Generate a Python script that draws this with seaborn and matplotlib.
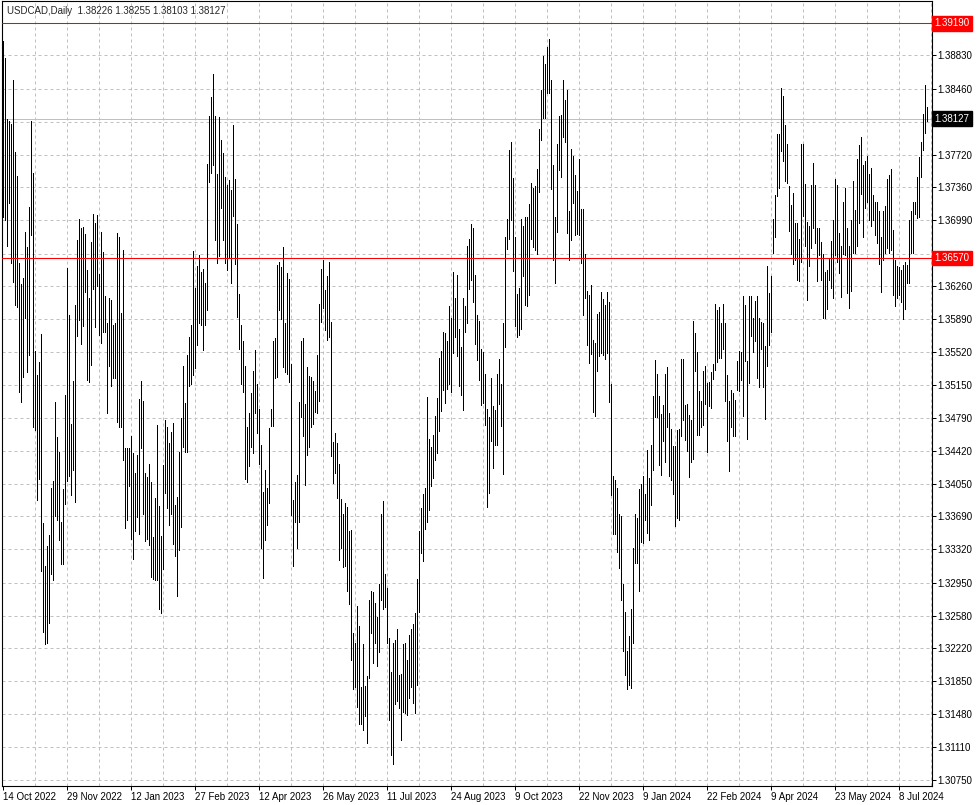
import numpy as np
import pandas as pd
import matplotlib
matplotlib.use('Agg')
import matplotlib.pyplot as plt
import seaborn as sns

# ── datos (máximo / mínimo diario) ───────────────────────────────────────────
highs = [
    1.3899, 1.3880, 1.3812, 1.3810, 1.3807, 1.3856, 1.3775, 1.3749, 1.3652, 1.3628,
    1.3635, 1.3686, 1.3669, 1.3714, 1.3810, 1.3752, 1.3553, 1.3527, 1.3541, 1.3572,
    1.3361, 1.3314, 1.3336, 1.3348, 1.3401, 1.3408, 1.3496, 1.3457, 1.3441, 1.3362,
    1.3399, 1.3504, 1.3646, 1.3594, 1.3472, 1.3520, 1.3605, 1.3677, 1.3701, 1.3690,
    1.3692, 1.3684, 1.3644, 1.3613, 1.3675, 1.3706, 1.3696, 1.3705, 1.3639, 1.3686,
    1.3664, 1.3615, 1.3584, 1.3612, 1.3610, 1.3582, 1.3585, 1.3685, 1.3681, 1.3596,
    1.3666, 1.3445, 1.3445, 1.3445, 1.3458, 1.3440, 1.3417, 1.3437, 1.3500, 1.3520,
    1.3498, 1.3417, 1.3413, 1.3427, 1.3407, 1.3346, 1.3389, 1.3471, 1.3380, 1.3347,
    1.3426, 1.3476, 1.3469, 1.3451, 1.3463, 1.3473, 1.3381, 1.3390, 1.3441, 1.3479,
    1.3537, 1.3495, 1.3549, 1.3569, 1.3582, 1.3665, 1.3624, 1.3648, 1.3660, 1.3642,
    1.3645, 1.3629, 1.3762, 1.3816, 1.3837, 1.3862, 1.3816, 1.3751, 1.3814, 1.3789,
    1.3774, 1.3748, 1.3738, 1.3744, 1.3733, 1.3805, 1.3745, 1.3695, 1.3617, 1.3582,
    1.3565, 1.3537, 1.3469, 1.3484, 1.3506, 1.3531, 1.3554, 1.3517, 1.3489, 1.3448,
    1.3396, 1.3420, 1.3400, 1.3467, 1.3489, 1.3564, 1.3568, 1.3649, 1.3653, 1.3647,
    1.3669, 1.3584, 1.3640, 1.3634, 1.3539, 1.3387, 1.3407, 1.3415, 1.3496, 1.3565,
    1.3568, 1.3494, 1.3536, 1.3525, 1.3524, 1.3520, 1.3509, 1.3549, 1.3606, 1.3645,
    1.3655, 1.3621, 1.3637, 1.3653, 1.3586, 1.3452, 1.3462, 1.3451, 1.3427, 1.3388,
    1.3371, 1.3384, 1.3379, 1.3353, 1.3354, 1.3239, 1.3228, 1.3269, 1.3246, 1.3179,
    1.3226, 1.3180, 1.3191, 1.3276, 1.3285, 1.3284, 1.3272, 1.3256, 1.3293, 1.3372,
    1.3386, 1.3304, 1.3289, 1.3233, 1.3195, 1.3227, 1.3231, 1.3243, 1.3192, 1.3193,
    1.3226, 1.3228, 1.3209, 1.3237, 1.3243, 1.3249, 1.3261, 1.3299, 1.3353, 1.3378,
    1.3394, 1.3400, 1.3502, 1.3455, 1.3446, 1.3460, 1.3481, 1.3501, 1.3546, 1.3553,
    1.3574, 1.3573, 1.3565, 1.3604, 1.3590, 1.3641, 1.3612, 1.3638, 1.3578, 1.3558,
    1.3613, 1.3604, 1.3670, 1.3678, 1.3695, 1.3690, 1.3638, 1.3594, 1.3587, 1.3555,
    1.3552, 1.3528, 1.3489, 1.3480, 1.3523, 1.3492, 1.3488, 1.3528, 1.3544, 1.3517,
    1.3585, 1.3681, 1.3701, 1.3778, 1.3786, 1.3746, 1.3680, 1.3617, 1.3624, 1.3701,
    1.3693, 1.3703, 1.3703, 1.3717, 1.3741, 1.3735, 1.3737, 1.3756, 1.3801, 1.3845,
    1.3882, 1.3874, 1.3893, 1.3901, 1.3856, 1.3761, 1.3703, 1.3784, 1.3816, 1.3817,
    1.3856, 1.3833, 1.3845, 1.3710, 1.3779, 1.3771, 1.3750, 1.3732, 1.3767, 1.3712,
    1.3712, 1.3662, 1.3620, 1.3616, 1.3627, 1.3566, 1.3562, 1.3595, 1.3597, 1.3619,
    1.3611, 1.3605, 1.3619, 1.3608, 1.3516, 1.3414, 1.3409, 1.3400, 1.3371, 1.3369,
    1.3293, 1.3262, 1.3219, 1.3235, 1.3265, 1.3334, 1.3372, 1.3367, 1.3399, 1.3405,
    1.3414, 1.3394, 1.3443, 1.3412, 1.3448, 1.3503, 1.3543, 1.3528, 1.3503, 1.3483,
    1.3493, 1.3528, 1.3535, 1.3484, 1.3466, 1.3447, 1.3447, 1.3465, 1.3466, 1.3544,
    1.3544, 1.3493, 1.3494, 1.3482, 1.3476, 1.3587, 1.3573, 1.3552, 1.3509, 1.3497,
    1.3531, 1.3537, 1.3518, 1.3519, 1.3530, 1.3539, 1.3606, 1.3599, 1.3602, 1.3584,
    1.3606, 1.3584, 1.3526, 1.3498, 1.3510, 1.3507, 1.3499, 1.3542, 1.3553, 1.3552,
    1.3615, 1.3605, 1.3542, 1.3615, 1.3615, 1.3590, 1.3609, 1.3615, 1.3590, 1.3586,
    1.3585, 1.3559, 1.3648, 1.3618, 1.3637, 1.3701, 1.3727, 1.3795, 1.3795, 1.3847,
    1.3838, 1.3805, 1.3784, 1.3737, 1.3716, 1.3730, 1.3696, 1.3696, 1.3678, 1.3784,
    1.3784, 1.3740, 1.3697, 1.3693, 1.3738, 1.3763, 1.3738, 1.3691, 1.3690, 1.3675,
    1.3662, 1.3642, 1.3644, 1.3657, 1.3676, 1.3700, 1.3745, 1.3738, 1.3685, 1.3671,
    1.3719, 1.3735, 1.3691, 1.3670, 1.3700, 1.3743, 1.3711, 1.3768, 1.3783, 1.3792,
    1.3761, 1.3765, 1.3771, 1.3751, 1.3758, 1.3727, 1.3720, 1.3719, 1.3709, 1.3681,
    1.3709, 1.3715, 1.3745, 1.3750, 1.3756, 1.3688, 1.3655, 1.3648, 1.3647, 1.3644,
    1.3649, 1.3653, 1.3649, 1.3700, 1.3709, 1.3719, 1.3719, 1.3748, 1.3770, 1.3787,
    1.3818, 1.3850, 1.38255,
]
lows = [
    1.3703, 1.3700, 1.3670, 1.3718, 1.3651, 1.3630, 1.3605, 1.3602, 1.3508, 1.3496,
    1.3524, 1.3590, 1.3530, 1.3549, 1.3683, 1.3468, 1.3465, 1.3387, 1.3410, 1.3308,
    1.3240, 1.3226, 1.3228, 1.3250, 1.3304, 1.3298, 1.3369, 1.3365, 1.3343, 1.3316,
    1.3316, 1.3383, 1.3408, 1.3414, 1.3393, 1.3421, 1.3385, 1.3570, 1.3588, 1.3561,
    1.3581, 1.3619, 1.3521, 1.3519, 1.3538, 1.3623, 1.3580, 1.3626, 1.3571, 1.3562,
    1.3574, 1.3574, 1.3484, 1.3537, 1.3514, 1.3523, 1.3523, 1.3474, 1.3469, 1.3468,
    1.3432, 1.3356, 1.3365, 1.3403, 1.3344, 1.3321, 1.3352, 1.3368, 1.3349, 1.3445,
    1.3372, 1.3341, 1.3344, 1.3337, 1.3301, 1.3299, 1.3298, 1.3298, 1.3265, 1.3261,
    1.3310, 1.3395, 1.3378, 1.3359, 1.3371, 1.3338, 1.3325, 1.3280, 1.3331, 1.3357,
    1.3446, 1.3441, 1.3441, 1.3514, 1.3516, 1.3526, 1.3534, 1.3560, 1.3584, 1.3582,
    1.3554, 1.3582, 1.3599, 1.3742, 1.3752, 1.3761, 1.3677, 1.3651, 1.3659, 1.3713,
    1.3677, 1.3651, 1.3644, 1.3657, 1.3629, 1.3704, 1.3650, 1.3591, 1.3555, 1.3516,
    1.3508, 1.3411, 1.3407, 1.3425, 1.3446, 1.3440, 1.3484, 1.3462, 1.3427, 1.3333,
    1.3300, 1.3342, 1.3359, 1.3384, 1.3470, 1.3470, 1.3523, 1.3524, 1.3599, 1.3589,
    1.3536, 1.3530, 1.3528, 1.3519, 1.3370, 1.3314, 1.3363, 1.3334, 1.3362, 1.3480,
    1.3458, 1.3404, 1.3437, 1.3446, 1.3468, 1.3472, 1.3485, 1.3484, 1.3497, 1.3586,
    1.3601, 1.3577, 1.3566, 1.3569, 1.3436, 1.3406, 1.3417, 1.3389, 1.3320, 1.3333,
    1.3312, 1.3314, 1.3285, 1.3271, 1.3209, 1.3176, 1.3178, 1.3156, 1.3137, 1.3137,
    1.3131, 1.3146, 1.3116, 1.3188, 1.3239, 1.3205, 1.3228, 1.3202, 1.3217, 1.3275,
    1.3266, 1.3268, 1.3228, 1.3142, 1.3103, 1.3092, 1.3160, 1.3163, 1.3155, 1.3119,
    1.3151, 1.3150, 1.3147, 1.3166, 1.3179, 1.3161, 1.3150, 1.3181, 1.3262, 1.3328,
    1.3319, 1.3355, 1.3362, 1.3376, 1.3403, 1.3412, 1.3432, 1.3440, 1.3464, 1.3486,
    1.3510, 1.3495, 1.3511, 1.3516, 1.3508, 1.3551, 1.3569, 1.3548, 1.3514, 1.3504,
    1.3488, 1.3574, 1.3585, 1.3622, 1.3632, 1.3608, 1.3561, 1.3543, 1.3521, 1.3493,
    1.3495, 1.3471, 1.3379, 1.3395, 1.3453, 1.3423, 1.3449, 1.3448, 1.3494, 1.3470,
    1.3416, 1.3558, 1.3667, 1.3678, 1.3700, 1.3643, 1.3581, 1.3569, 1.3571, 1.3578,
    1.3637, 1.3605, 1.3604, 1.3616, 1.3678, 1.3669, 1.3666, 1.3662, 1.3731, 1.3789,
    1.3813, 1.3813, 1.3841, 1.3841, 1.3734, 1.3655, 1.3629, 1.3686, 1.3755, 1.3747,
    1.3792, 1.3786, 1.3685, 1.3655, 1.3677, 1.3718, 1.3683, 1.3684, 1.3683, 1.3652,
    1.3593, 1.3613, 1.3560, 1.3540, 1.3550, 1.3485, 1.3481, 1.3531, 1.3548, 1.3551,
    1.3549, 1.3544, 1.3551, 1.3496, 1.3393, 1.3349, 1.3349, 1.3329, 1.3311, 1.3275,
    1.3219, 1.3192, 1.3176, 1.3181, 1.3177, 1.3228, 1.3317, 1.3317, 1.3286, 1.3340,
    1.3339, 1.3365, 1.3350, 1.3343, 1.3381, 1.3420, 1.3480, 1.3480, 1.3426, 1.3415,
    1.3453, 1.3430, 1.3469, 1.3414, 1.3409, 1.3394, 1.3358, 1.3367, 1.3365, 1.3458,
    1.3476, 1.3454, 1.3442, 1.3413, 1.3430, 1.3433, 1.3531, 1.3460, 1.3460, 1.3468,
    1.3471, 1.3494, 1.3441, 1.3492, 1.3490, 1.3522, 1.3532, 1.3541, 1.3545, 1.3545,
    1.3555, 1.3498, 1.3453, 1.3419, 1.3469, 1.3458, 1.3458, 1.3510, 1.3509, 1.3521,
    1.3481, 1.3542, 1.3455, 1.3518, 1.3570, 1.3552, 1.3564, 1.3523, 1.3513, 1.3556,
    1.3513, 1.3478, 1.3537, 1.3560, 1.3575, 1.3663, 1.3681, 1.3726, 1.3735, 1.3776,
    1.3765, 1.3743, 1.3741, 1.3687, 1.3661, 1.3650, 1.3655, 1.3632, 1.3631, 1.3653,
    1.3704, 1.3670, 1.3610, 1.3648, 1.3668, 1.3691, 1.3674, 1.3631, 1.3660, 1.3632,
    1.3590, 1.3590, 1.3600, 1.3633, 1.3624, 1.3613, 1.3660, 1.3653, 1.3640, 1.3614,
    1.3661, 1.3660, 1.3618, 1.3601, 1.3620, 1.3663, 1.3663, 1.3670, 1.3696, 1.3728,
    1.3681, 1.3713, 1.3720, 1.3700, 1.3693, 1.3699, 1.3683, 1.3674, 1.3650, 1.3619,
    1.3655, 1.3663, 1.3668, 1.3663, 1.3666, 1.3616, 1.3603, 1.3613, 1.3616, 1.3608,
    1.3589, 1.3600, 1.3629, 1.3629, 1.3663, 1.3663, 1.3706, 1.3702, 1.3703, 1.3748,
    1.3778, 1.3797, 1.38103,
]

# niveles y etiquetas de la escala de precios
price_ticks = [1.30750, 1.31110, 1.31480, 1.31850, 1.32220, 1.32580, 1.32950,
               1.33320, 1.33690, 1.34050, 1.34420, 1.34790, 1.35150, 1.35520,
               1.35890, 1.36260, 1.36620, 1.36990, 1.37360, 1.37720, 1.38090,
               1.38460, 1.38830]
hidden_ticks = [1.36620, 1.38090]
red_levels = [1.39190, 1.36570]
bid = 1.38127
header = 'USDCAD,Daily  1.38226 1.38255 1.38103 1.38127'
missing_days = ['2023-12-25', '2024-01-01', '2024-03-29']

# ── preparar tabla ───────────────────────────────────────────────────────────
n = len(highs)
dias = pd.bdate_range('2022-10-14', periods=n + 20)
dias = dias[~dias.isin(pd.to_datetime(missing_days))][:n]

barras = pd.DataFrame({'idx': np.arange(n), 'fecha': dias,
                       'high': highs, 'low': lows})
largo = barras.melt(id_vars=['idx'], value_vars=['low', 'high'],
                    value_name='price')

sns.set_style('white')
plt.rcParams['font.family'] = ['Liberation Sans', 'DejaVu Sans']

W, H = 978, 805
fig = plt.figure(figsize=(W / 100, H / 100), dpi=100)
ax = fig.add_axes([2 / W, 19 / H, 930 / W, 785 / H])

grid_kw = dict(color='#c0c0c0', linewidth=0.72, linestyle=(0, (3, 3)), zorder=0)
for p in price_ticks:
    ax.axhline(p, **grid_kw)
for i in range(16, n + 2, 16):
    ax.axvline(i, **grid_kw)

ax.axhline(bid, color='#c0c0c0', linewidth=0.72, antialiased=False, zorder=1)

# cada barra diaria = un segmento vertical del mínimo al máximo
sns.lineplot(data=largo, x='idx', y='price', units='idx', estimator=None,
             sort=False, color='black', linewidth=0.72, antialiased=False,
             legend=False, ax=ax, zorder=3)

# niveles horizontales rojos por encima de todo
for lvl in red_levels:
    ax.axhline(lvl, color='#ff0000', linewidth=0.75, antialiased=True, zorder=5)

ax.set_xlim(-0.65, 464.35)
ax.set_ylim(1.30680, 1.39438)
ax.set_xlabel('')
ax.set_ylabel('')

# eje de precios a la derecha
ax.yaxis.tick_right()
ax.set_yticks(price_ticks)
ax.set_yticklabels(['' if p in hidden_ticks else f'{p:.5f}' for p in price_ticks])
ax.tick_params(axis='y', length=3, width=0.72, pad=1, labelsize=7,
               colors='black', right=True, left=False)

# eje de fechas
pos = list(range(0, n, 32))
ax.set_xticks(pos)
ax.set_xticklabels([f'{barras.fecha[i].day} {barras.fecha[i]:%b %Y}' for i in pos],
                   ha='left')
ax.tick_params(axis='x', length=3, width=0.72, pad=1, labelsize=7,
               colors='black', bottom=True)

for s in ax.spines.values():
    s.set_color('black')
    s.set_linewidth(0.8)

# cajas de precio
ytr = ax.get_yaxis_transform()
for lvl in red_levels:
    ax.text(1.0025, lvl, f'{lvl:.5f}', transform=ytr, ha='left', va='center',
            fontsize=7, color='white', clip_on=False, zorder=6,
            bbox=dict(boxstyle='square,pad=0.25', fc='#ff0000', ec='#ff0000'))
ax.text(1.0025, bid, f'{bid:.5f}', transform=ytr, ha='left', va='center',
        fontsize=7, color='white', clip_on=False, zorder=6,
        bbox=dict(boxstyle='square,pad=0.25', fc='black', ec='black'))

fig.text(7 / W, 1 - 11 / H, header, fontsize=7, ha='left', va='center')

fig.savefig('out.png', dpi=100)
